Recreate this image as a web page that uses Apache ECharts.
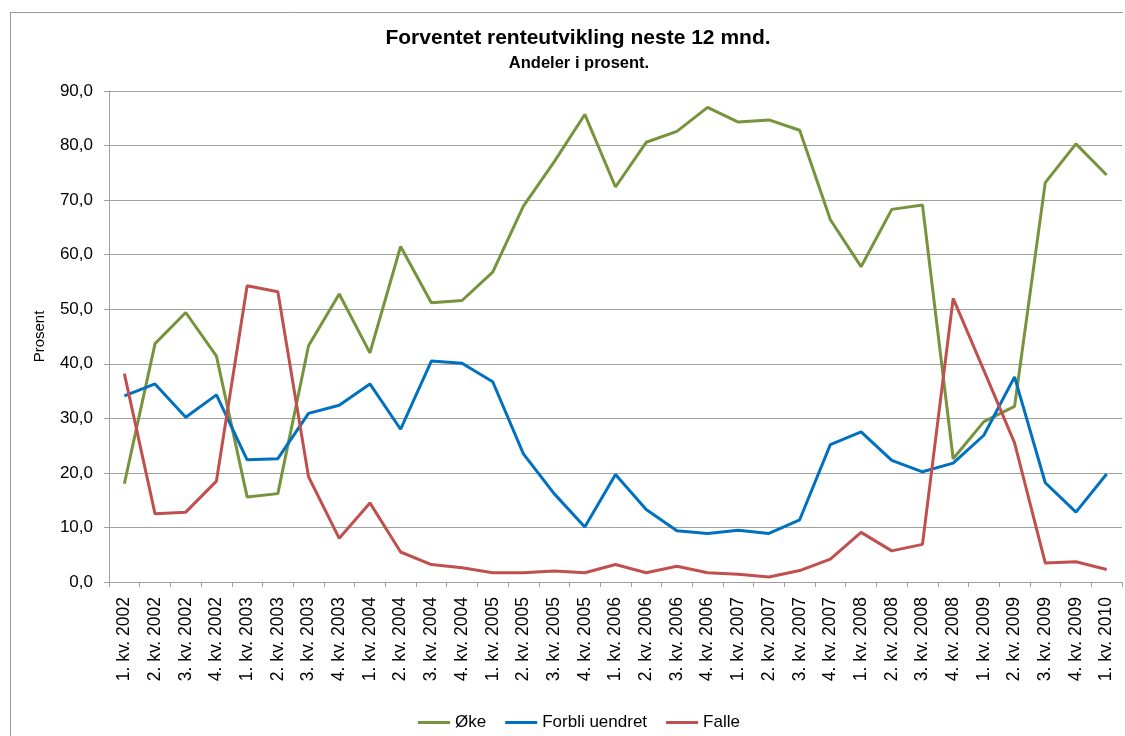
<!DOCTYPE html>
<html>
<head>
<meta charset="utf-8">
<script src="https://cdn.jsdelivr.net/npm/echarts@6/dist/echarts.min.js"></script>
<style>
html,body{margin:0;padding:0;background:#fff;}
#c{width:1125px;height:736px;}
</style>
</head>
<body>
<div id="c"></div>
<script>
var categories = [
  "1. kv. 2002","2. kv. 2002","3. kv. 2002","4. kv. 2002",
  "1. kv. 2003","2. kv. 2003","3. kv. 2003","4. kv. 2003",
  "1. kv. 2004","2. kv. 2004","3. kv. 2004","4. kv. 2004",
  "1. kv. 2005","2. kv. 2005","3. kv. 2005","4. kv. 2005",
  "1. kv. 2006","2. kv. 2006","3. kv. 2006","4. kv. 2006",
  "1. kv. 2007","2. kv. 2007","3. kv. 2007","4. kv. 2007",
  "1. kv. 2008","2. kv. 2008","3. kv. 2008","4. kv. 2008",
  "1. kv. 2009","2. kv. 2009","3. kv. 2009","4. kv. 2009",
  "1. kv. 2010"
];
var oke = [18.0, 43.7, 49.4, 41.4, 15.6, 16.2, 43.3, 52.8, 42.0, 61.5, 51.2, 51.6,
  56.8, 68.9, 77.0, 85.7, 72.4, 80.6, 82.6, 87.0, 84.3, 84.7, 82.8, 66.4,
  57.8, 68.3, 69.1, 22.6, 29.4, 32.2, 73.2, 80.3, 74.6];
var forbli = [34.1, 36.3, 30.2, 34.3, 22.4, 22.6, 30.9, 32.4, 36.3, 28.0, 40.5, 40.1,
  36.7, 23.5, 16.2, 10.1, 19.7, 13.3, 9.4, 8.9, 9.5, 8.9, 11.4, 25.2,
  27.5, 22.3, 20.2, 21.8, 26.9, 37.6, 18.2, 12.8, 19.8];
var falle = [38.2, 12.5, 12.8, 18.5, 54.3, 53.2, 19.3, 8.0, 14.5, 5.5, 3.2, 2.6,
  1.7, 1.7, 2.0, 1.7, 3.2, 1.7, 2.9, 1.7, 1.4, 0.9, 2.1, 4.2,
  9.1, 5.7, 6.9, 52.0, 38.8, 25.5, 3.5, 3.7, 2.3];
var seriesNames = ["Øke", "Forbli uendret", "Falle"];
var titleText = "Forventet renteutvikling neste 12 mnd.";
var subtitleText = "Andeler i prosent.";
var yAxisName = "Prosent";

var FONT = "Arial, 'Liberation Sans', sans-serif";
var gridColor = "#a0a0a0";

var chart = echarts.init(document.getElementById('c'), null, {renderer: 'canvas'});
var option = {
  backgroundColor: '#ffffff',
  animation: false,
  title: [
    {text: titleText, left: 573, top: 23, textAlign: 'center',
     textStyle: {fontFamily: FONT, fontSize: 21, fontWeight: 'bold', color: '#000'}},
    {text: subtitleText, left: 574, top: 50, textAlign: 'center',
     textStyle: {fontFamily: FONT, fontSize: 16.5, fontWeight: 'bold', color: '#000'}}
  ],
  legend: {
    data: seriesNames,
    left: 413,
    top: 709,
    icon: 'rect',
    itemWidth: 32,
    itemHeight: 3,
    itemGap: 19,
    textStyle: {fontFamily: FONT, fontSize: 17, color: '#000'}
  },
  grid: {left: 109, right: 3, top: 91, bottom: 154, containLabel: false},
  xAxis: {
    type: 'category',
    data: categories,
    boundaryGap: true,
    axisLine: {show: true, lineStyle: {color: gridColor, width: 1}},
    axisTick: {show: true, length: 5, alignWithLabel: false, lineStyle: {color: gridColor}},
    axisLabel: {rotate: 90, margin: 15, interval: 0, fontFamily: FONT, fontSize: 17.5, color: '#000'},
    splitLine: {show: false}
  },
  yAxis: {
    type: 'value',
    min: 0, max: 90, interval: 10,
    name: yAxisName,
    nameLocation: 'middle',
    nameGap: 62,
    nameTextStyle: {fontFamily: FONT, fontSize: 15, color: '#000'},
    axisLine: {show: true, lineStyle: {color: gridColor, width: 1}},
    axisTick: {show: true, length: 5, lineStyle: {color: gridColor}},
    axisLabel: {margin: 16, fontFamily: FONT, fontSize: 17, color: '#000',
      formatter: function (v) { return v.toFixed(1).replace('.', ','); }},
    splitLine: {show: true, lineStyle: {color: gridColor, width: 1}}
  },
  series: [
    {name: seriesNames[0], type: 'line', data: oke, symbol: 'none', smooth: false,
     lineStyle: {width: 3, color: '#77933C'}, itemStyle: {color: '#77933C'}},
    {name: seriesNames[1], type: 'line', data: forbli, symbol: 'none', smooth: false,
     lineStyle: {width: 3, color: '#0070C0'}, itemStyle: {color: '#0070C0'}},
    {name: seriesNames[2], type: 'line', data: falle, symbol: 'none', smooth: false,
     lineStyle: {width: 3, color: '#C0504D'}, itemStyle: {color: '#C0504D'}}
  ],
  graphic: [
    {type: 'line', shape: {x1: 10, y1: 12.5, x2: 1123, y2: 12.5}, style: {stroke: '#999', lineWidth: 1}, silent: true},
    {type: 'line', shape: {x1: 10.5, y1: 12, x2: 10.5, y2: 736}, style: {stroke: '#999', lineWidth: 1}, silent: true}
  ]
};
chart.setOption(option);
</script>
</body>
</html>
